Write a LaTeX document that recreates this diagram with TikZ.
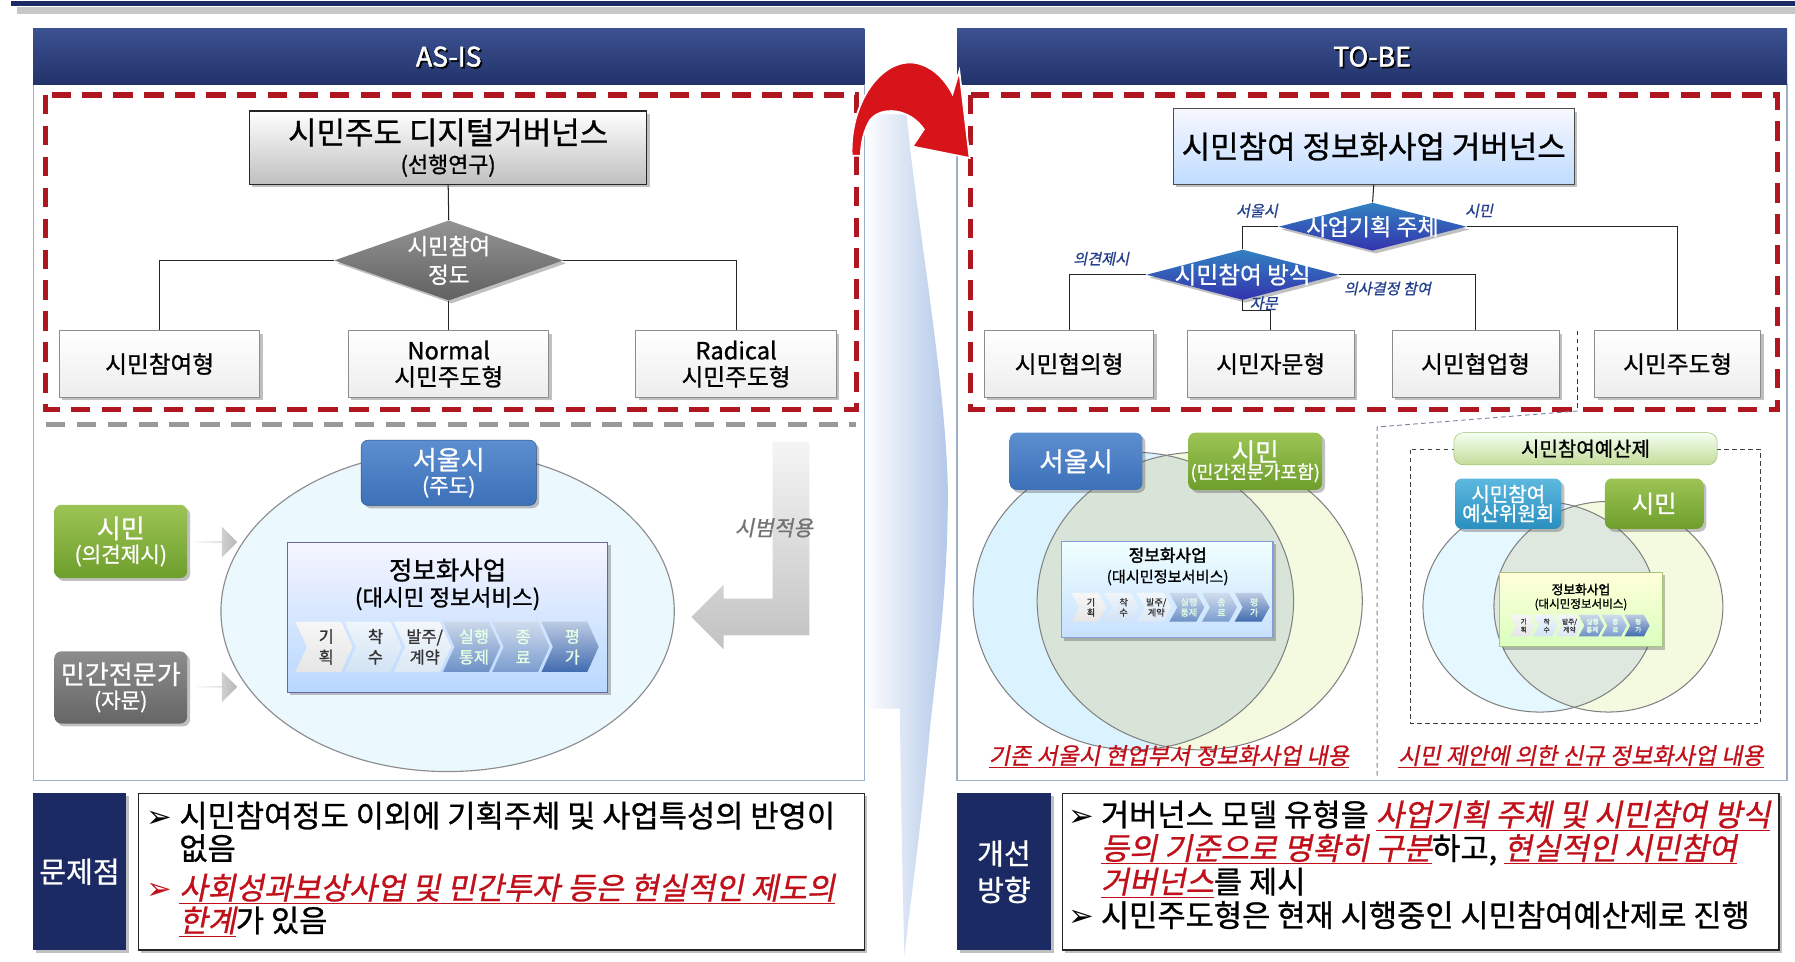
\documentclass[tikz,border=0pt]{standalone}
\usepackage{fontspec}
\setmainfont{Noto Sans CJK KR}[FakeBold=0.9,ItalicFont={Noto Sans CJK KR},ItalicFeatures={FakeSlant=0.2,FakeBold=0.9},BoldFont={Noto Sans CJK KR},BoldFeatures={FakeBold=1.8},BoldItalicFont={Noto Sans CJK KR},BoldItalicFeatures={FakeSlant=0.2,FakeBold=1.8}]
\newfontfamily\dejavu{DejaVu Sans}
\usetikzlibrary{shapes.geometric,shapes.arrows,shadows,calc}
\definecolor{hdtop}{HTML}{3C5191}
\definecolor{hdbot}{HTML}{22326A}
\definecolor{navy}{HTML}{1B2A62}
\definecolor{rdash}{HTML}{B0161F}
\definecolor{panelb}{HTML}{9DB0C8}
\definecolor{redt}{HTML}{C0101A}
\definecolor{lblue}{HTML}{243F8C}
\definecolor{sblue}{HTML}{3C70B8}
\definecolor{sbluet}{HTML}{5C8FD0}
\definecolor{grn}{HTML}{6E9E2C}
\definecolor{grnt}{HTML}{9CC455}
\definecolor{teal}{HTML}{2A8FBF}
\definecolor{tealt}{HTML}{5CB8DE}
\definecolor{chA}{HTML}{E6E6E6}
\definecolor{chB}{HTML}{D2E3F4}
\definecolor{chC}{HTML}{DCE8F5}
\definecolor{chD}{HTML}{6D90C6}
\definecolor{chE}{HTML}{7A9CCF}
\definecolor{chF}{HTML}{416BAF}
\definecolor{midB}{HTML}{B3C8E8}
\definecolor{arrR}{HTML}{D8141B}
\newcommand\fsz[2]{\fontsize{\dimexpr #1pt*106/100\relax}{#2pt}\selectfont}
\newcommand\arr{{\dejavu ➢}}
\newcommand\ru[1]{\textcolor{redt}{\itshape\underline{#1}}}
\tikzset{
  shd/.style={drop shadow={shadow xshift=2.5pt,shadow yshift=-2.5pt,opacity=0.35,fill=black!70}},
  conn/.style={draw=black!85,line width=0.9pt},
  reddash/.style={draw=rdash,line width=4.5pt,dash pattern=on 17pt off 10pt},
  panel/.style={draw=panelb,line width=1pt,fill=white},
  header/.style={rectangle,top color=hdtop,bottom color=hdbot,draw=none,inner sep=0},
  hdtext/.style={text=white,font=\fsz{22}{24}\bfseries},
  hdshadow/.style={text=black,font=\fsz{22}{24}\bfseries},
  graybox/.style={rectangle,draw=black!85,line width=1.2pt,top color=white,bottom color=black!25,shd,align=center,inner sep=0},
  whitebox/.style={rectangle,draw=black!45,line width=0.8pt,top color=white,bottom color=black!7,shd,align=center,inner sep=0,font=\fsz{19.5}{23}},
  bluebox/.style={rectangle,draw=black!70,line width=1pt,top color=blue!3,bottom color=blue!55!cyan!25,shd,align=center,inner sep=0},
  dia/.style={diamond,inner sep=0,shd},
  diatext/.style={text=white,align=center,inner sep=0},
  smlab/.style={text=lblue,font=\fsz{12.5}{14}\itshape,inner sep=0},
  rbox/.style={rectangle,rounded corners=6pt,align=center,inner sep=0,text=white,shd},
  chevtext/.style={align=center,inner sep=0},
  redlab/.style={text=redt,font=\fsz{19}{22}\itshape,inner sep=0},
  vline/.style={draw=black!50,line width=0.9pt},
}
\newcommand\chev[6]{%
  \path[#6] (#1,#2) -- ++(#3-#5,0) -- ++(#5,#4/2) -- ++(-#5,#4/2) -- ++(-#3+#5,0) -- ++(#5,-#4/2) -- cycle;}
\begin{document}
\begin{tikzpicture}[x=1pt,y=-1pt]
\useasboundingbox (0,0) rectangle (1568,840);
\fill[white] (0,0) rectangle (1568,840);
% top band
\fill[navy] (10,1) rectangle (1568,5.5);
\fill[black!22] (15,6) rectangle (1568,12.5);

% middle translucent arrow
\shade[left color=white,right color=midB] (754,100) -- (792,100) .. controls (800,190) and (826,330) .. (828,428) .. controls (828,520) and (818,580) .. (812,640) .. controls (805,720) and (795,790) .. (790,835) .. controls (788,760) and (787,690) .. (786,619) -- (754,619) -- cycle;

% ================= LEFT PANEL =================
\path[panel] (29,74) rectangle (755,682);
\node[header,minimum width=726,minimum height=49] (hdL) at (392,49.5) {};
\node[hdshadow] (hdLs) at ($(hdL)+(1.5,1.5)$) {AS-IS};
\node[hdtext] (hdLt) at (hdL) {AS-IS};
\path[reddash] (40,83) rectangle (748,358);

\node[graybox,minimum width=347,minimum height=64] (t1) at (391.5,129)
  {{\fsz{25.5}{30}시민주도 디지털거버넌스}\\[6pt]{\fsz{18}{20}(선행연구)}};
\node[dia,minimum width=200,minimum height=70,top color=black!42,bottom color=black!62] (d1) at (392,227.5) {};
\node[diatext,font=\fsz{18.5}{25}] (d1t) at (d1) {시민참여\\정도};
\node[whitebox,minimum width=175,minimum height=58] (b1) at (139.5,318) {시민참여형};
\node[whitebox,minimum width=175,minimum height=58] (b2) at (392,318) {Normal\\시민주도형};
\node[whitebox,minimum width=175,minimum height=58] (b3) at (643,318) {Radical\\시민주도형};
\draw[conn] (t1.south) -- (d1.north);
\draw[conn] (d1.west) -| (b1.north);
\draw[conn] (d1.east) -| (b3.north);
\draw[conn] (d1.south) -- (b2.north);

\coordinate (gd1) at (40,371);
\coordinate (gd2) at (748,371);
\draw[draw=black!40,line width=4pt,dash pattern=on 17pt off 10pt] (gd1) -- (gd2);

% ellipse
\node[ellipse,minimum width=396,minimum height=280,draw=black!45,line width=1pt,fill=blue!30!cyan!8] (circ) at (391,534) {};
\node[rbox,minimum width=153,minimum height=57,top color=sbluet,bottom color=sblue,draw=sblue!70!black] (s1) at (392,413)
  {{\fsz{21.5}{24}서울시}\\[3pt]{\fsz{17.5}{20}(주도)}};
\node[rbox,minimum width=116,minimum height=64,top color=grnt,bottom color=grn] (g1) at (105.5,473)
  {{\fsz{21.5}{24}시민}\\[3pt]{\fsz{17.5}{20}(의견제시)}};
\node[rbox,minimum width=116,minimum height=63,top color=black!45,bottom color=black!60] (m1) at (105.5,600.5)
  {{\fsz{21.5}{24}민간전문가}\\[3pt]{\fsz{17.5}{20}(자문)}};
\node[single arrow,minimum height=36,minimum width=27,single arrow head extend=5,inner sep=0,left color=black!3,right color=black!28] (a1) at (189,473.5) {};
\node[single arrow,minimum height=36,minimum width=27,single arrow head extend=5,inner sep=0,left color=black!3,right color=black!28] (a2) at (189,600) {};
\draw[draw=none] (g1.east) -- (a1.west);
\draw[draw=none] (m1.east) -- (a2.west);

\node[rectangle,minimum width=280,minimum height=131,draw=blue!40!black!60,line width=1pt,top color=blue!4,bottom color=blue!55!cyan!28,shd] (ib1) at (391,539.5) {};
\node[inner sep=0,font=\fsz{21}{22}] (ib1a) at (391,498) {정보화사업};
\node[inner sep=0,font=\fsz{18.5}{22}] (ib1b) at (391,523) {(대시민 정보서비스)};
\foreach \i/\c/\t/\tc in {0/chA/{기\\획}/black!80,1/chB/{착\\수}/black!80,2/chC/{발주/\\계약}/black!80,3/chD/{실행\\통제}/green!10,4/chE/{종\\료}/green!10,5/chF/{평\\가}/green!10}{
  \chev{258+43*\i}{543}{50}{44}{10}{top color=\c!35,bottom color=\c}
  \node[chevtext,font=\fsz{13.5}{18},text=\tc] (cl\i) at (258+43*\i+27,565) {\t};
}
% L arrow
\shade[top color=black!4,bottom color=black!24] (675,386) -- (707,386) -- (707,555) -- (632,555) -- (632,567) -- (604,539) -- (632,511) -- (632,523) -- (675,523) -- cycle;
\node[inner sep=0,text=black!55,font=\fsz{17.5}{20}\itshape] (sb) at (676,461) {시범적용};

% bottom left
\node[rectangle,fill=navy,minimum width=81,minimum height=137,inner sep=0,shd,text=white,font=\fsz{24}{26}] (pL) at (69.5,761.5) {문제점};
\node[rectangle,draw=black!85,line width=1.2pt,fill=white,minimum width=634,minimum height=137,inner sep=0,shd] (tbL) at (438,761.5) {};
\node[anchor=north west,align=left,inner sep=0,font=\fsz{25.3}{28.5}] (txL) at (128,700)
 {\arr\ 시민참여정도 이외에 기획주체 및 사업특성의 반영이\\
  \hphantom{\arr\ }없음\\[6pt]
  \textcolor{redt}{\arr}\ \ru{사회성과보상사업 및 민간투자 등은 현실적인 제도의}\\
  \hphantom{\arr\ }\ru{한계}가 있음};

% ================= RIGHT PANEL =================
\path[panel] (836,74) rectangle (1561,682);
\node[header,minimum width=725,minimum height=49] (hdR) at (1198.5,49.5) {};
\node[hdshadow] (hdRs) at ($(hdR)+(1.5,1.5)$) {TO-BE};
\node[hdtext] (hdRt) at (hdR) {TO-BE};
\path[reddash] (848,83) rectangle (1553,358);

\node[bluebox,minimum width=350,minimum height=66,font=\fsz{25.5}{30}] (t2) at (1200,128) {시민참여 정보화사업 거버넌스};
\node[dia,minimum width=164,minimum height=42,top color=blue!45!cyan!70!black!80,bottom color=blue!60!black!80] (d2) at (1199,198) {};
\node[diatext,font=\fsz{19}{22}] (d2t) at (d2) {사업기획 주체};
\node[dia,minimum width=168,minimum height=44,top color=blue!45!cyan!70!black!80,bottom color=blue!60!black!80] (d3) at (1085.5,240) {};
\node[diatext,font=\fsz{19.5}{22}] (d3t) at (d3) {시민참여 방식};
\node[whitebox,minimum width=148,minimum height=58] (r1) at (934,318) {시민협의형};
\node[whitebox,minimum width=146,minimum height=58] (r2) at (1110,318) {시민자문형};
\node[whitebox,minimum width=146,minimum height=58] (r3) at (1289,318) {시민협업형};
\node[whitebox,minimum width=145,minimum height=58] (r4) at (1465.5,318) {시민주도형};
\draw[conn] (t2.south) -- (d2.north);
\draw[conn] (d2.west) -| (d3.north);
\draw[conn] (d2.east) -| (r4.north);
\draw[conn] (d3.west) -| (r1.north);
\draw[conn] (d3.east) -| (r3.north);
\draw[conn] (d3.south) |- ($(r2.north)+(0,-17)$) -- (r2.north);
\node[smlab] (lb1) at (1098,184) {서울시};
\node[smlab] (lb2) at (1292,184) {시민};
\node[smlab] (lb3) at (962,226) {의견제시};
\node[smlab] (lb4) at (1104,265) {자문};
\node[smlab] (lb5) at (1212,252) {의사결정 참여};

\coordinate (dv1) at (1378,289);
\coordinate (dv2) at (1378,359);
\coordinate (dv3) at (1203,373);
\coordinate (dv4) at (1203,680);
\draw[black!80,line width=0.8pt,dash pattern=on 4pt off 3pt] (dv1) -- (dv2);
\draw[blue!30!black!50,line width=0.8pt,dash pattern=on 4pt off 3pt] (dv2) -- (dv3) -- (dv4);

% Venn left
\fill[blue!35!cyan!14] (990,525) ellipse [x radius=140,y radius=130];
\fill[yellow!60!green!12] (1048,525) ellipse [x radius=142,y radius=130];
\begin{scope}
  \clip (990,525) ellipse [x radius=140,y radius=130];
  \fill[green!30!black!15] (1048,525) ellipse [x radius=142,y radius=130];
\end{scope}
\draw[vline] (990,525) ellipse [x radius=140,y radius=130];
\draw[vline] (1048,525) ellipse [x radius=142,y radius=130];
\node[rbox,minimum width=116,minimum height=50,top color=sbluet,bottom color=sblue,font=\fsz{22}{24}] (s2) at (940,403) {서울시};
\node[rbox,minimum width=117,minimum height=50,top color=grnt,bottom color=grn] (g2) at (1096.5,403)
  {{\fsz{21}{22}시민}\\[-1pt]{\fsz{15}{18}(민간전문가포함)}};
\node[rectangle,minimum width=185,minimum height=84,draw=cyan!40!blue!50,line width=1pt,top color=cyan!6,bottom color=cyan!45!blue!22,shd] (ib2) at (1019.5,515) {};
\node[inner sep=0,font=\fsz{14}{16}\bfseries] (ib2a) at (1020,485) {정보화사업};
\node[inner sep=0,font=\fsz{12.5}{15}] (ib2b) at (1020,504.5) {(대시민정보서비스)};
\foreach \i/\c/\t/\tc in {0/chA/{기\\획}/black!80,1/chB/{착\\수}/black!80,2/chC/{발주/\\계약}/black!80,3/chD/{실행\\통제}/green!10,4/chE/{종\\료}/green!10,5/chF/{평\\가}/green!10}{
  \chev{936+28.5*\i}{518}{30.5}{25}{7}{top color=\c!35,bottom color=\c}
  \node[chevtext,font=\fsz{7.5}{9},text=\tc] (cm\i) at (936+28.5*\i+17,530.5) {\t};
}
\node[redlab] (rl1) at (1021,661) {\underline{기존 서울시 현업부서 정보화사업 내용}};

% Venn right
\draw[black!75,line width=0.8pt,dash pattern=on 4pt off 3pt] (1232,393) rectangle (1538,632);
\fill[blue!30!cyan!10] (1345,530) ellipse [x radius=102,y radius=92];
\fill[yellow!60!green!12] (1405,530) ellipse [x radius=100,y radius=92];
\begin{scope}
  \clip (1345,530) ellipse [x radius=102,y radius=92];
  \fill[green!30!black!13] (1405,530) ellipse [x radius=100,y radius=92];
\end{scope}
\draw[vline] (1345,530) ellipse [x radius=102,y radius=92];
\draw[vline] (1405,530) ellipse [x radius=100,y radius=92];
\node[rectangle,rounded corners=8pt,minimum width=230,minimum height=28,inner sep=0,draw=grn!70,top color=yellow!10!green!5,bottom color=grnt!60,font=\fsz{16.5}{18}] (lb) at (1385,392) {시민참여예산제};
\node[rbox,minimum width=93,minimum height=44,top color=tealt,bottom color=teal] (tb) at (1317.5,440)
  {{\fsz{16.5}{19}시민참여}\\{\fsz{16.5}{19}예산위원회}};
\node[rbox,minimum width=86,minimum height=44,top color=grnt,bottom color=grn,font=\fsz{20}{22}] (g3) at (1445,440) {시민};
\node[rectangle,minimum width=142,minimum height=65,draw=grn!60,line width=1pt,top color=yellow!15,bottom color=yellow!40!green!25,shd] (ib3) at (1381,532.5) {};
\node[inner sep=0,font=\fsz{10.5}{12}\bfseries] (ib3a) at (1381,515) {정보화사업};
\node[inner sep=0,font=\fsz{9.5}{11}] (ib3b) at (1381,528) {(대시민정보서비스)};
\foreach \i/\c/\t/\tc in {0/chA/{기\\획}/black!80,1/chB/{착\\수}/black!80,2/chC/{발주/\\계약}/black!80,3/chD/{실행\\통제}/green!10,4/chE/{종\\료}/green!10,5/chF/{평\\가}/green!10}{
  \chev{1319+20*\i}{537}{22}{19}{5}{top color=\c!35,bottom color=\c}
  \node[chevtext,font=\fsz{5.5}{7},text=\tc] (cr\i) at (1319+20*\i+12,546.5) {\t};
}
\node[redlab] (rl2) at (1381,661) {\underline{시민 제안에 의한 신규 정보화사업 내용}};

% bottom right
\node[rectangle,fill=navy,minimum width=82,minimum height=137,inner sep=0,shd,text=white,align=center,font=\fsz{24}{32}] (pR) at (877,761.5) {개선\\방향};
\node[rectangle,draw=black!85,line width=1.2pt,fill=white,minimum width=626,minimum height=137,inner sep=0,shd] (tbR) at (1241,761.5) {};
\node[anchor=north west,align=left,inner sep=0,font=\fsz{25.3}{29.3}] (txR) at (933,699)
 {\arr\ 거버넌스 모델 유형을 \ru{사업기획 주체 및 시민참여 방식}\\
  \hphantom{\arr\ }\ru{등의 기준으로 명확히 구분}하고, \ru{현실적인 시민참여}\\
  \hphantom{\arr\ }\ru{거버넌스}를 제시\\
  \arr\ 시민주도형은 현재 시행중인 시민참여예산제로 진행};

% red curved arrow
\filldraw[fill=arrR,draw=white,line width=1.5pt] (744,136) .. controls (742,90) and (770,50) .. (800,55) .. controls (815,58) and (826,70) .. (832,82) -- (838,62) -- (847,138) -- (797,128) -- (807,113) .. controls (795,95) and (770,92) .. (760,105) .. controls (755,113) and (752,125) .. (752,136) -- cycle;
\end{tikzpicture}
\end{document}
